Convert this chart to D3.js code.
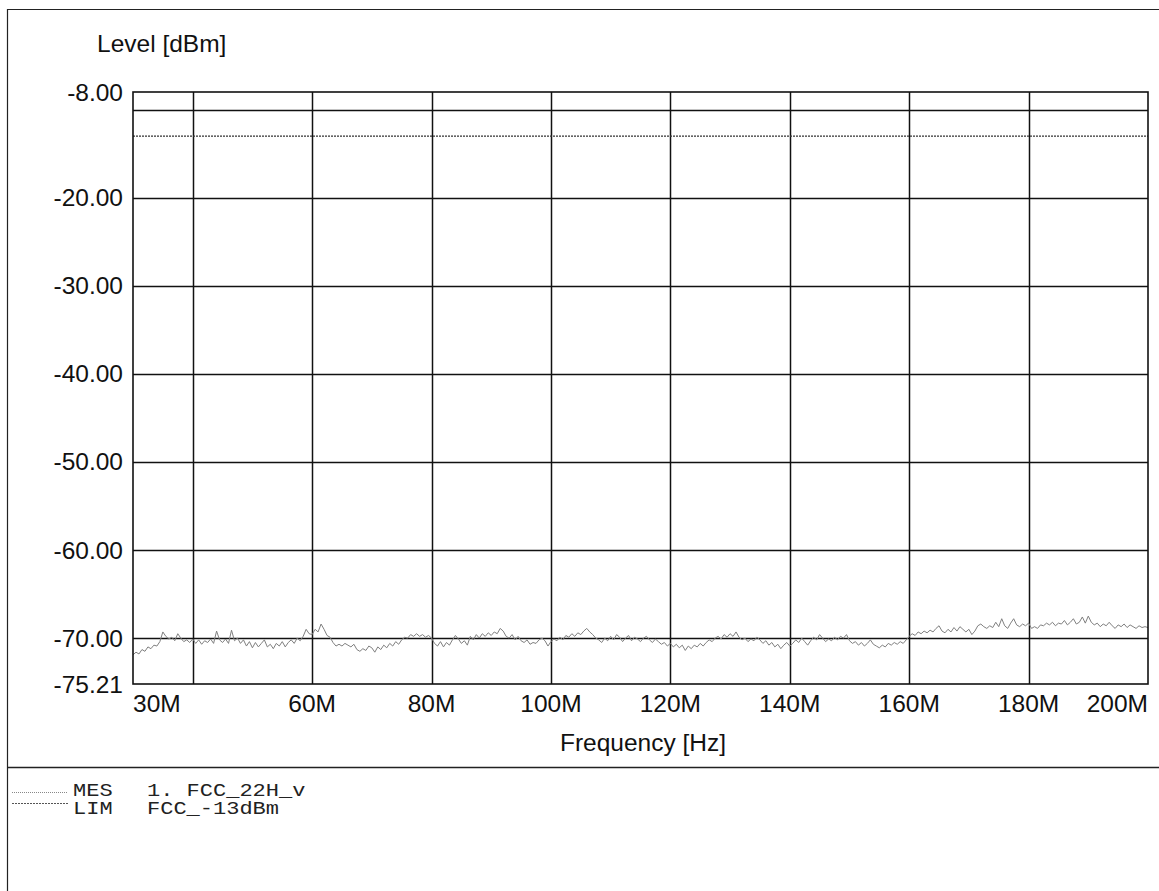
<!DOCTYPE html>
<html>
<head>
<meta charset="utf-8">
<script src="https://cdn.jsdelivr.net/npm/d3@7"></script>
<style>
html,body{margin:0;padding:0;background:#fff;}
svg{display:block;}
</style>
</head>
<body>
<svg id="chart" width="1159" height="891"></svg>
<script>
// ---- data ----
const freqStart = 30, freqStep = 0.5; // MHz
const mesLevels = [
-71.9,-71.6,-71.8,-71.3,-71.5,-71.0,-71.2,-70.8,-70.9,-70.4,
-69.3,-69.8,-70.1,-69.9,-70.3,-69.5,-70.0,-70.4,-70.2,-70.5,
-70.1,-70.6,-70.2,-70.7,-70.3,-70.5,-70.1,-70.6,-69.2,-70.2,
-70.5,-70.1,-70.6,-69.1,-70.3,-70.0,-70.6,-70.2,-70.9,-70.4,
-71.1,-70.5,-71.0,-70.6,-70.2,-71.0,-70.7,-71.2,-70.6,-70.9,
-70.4,-71.0,-70.5,-70.2,-70.6,-70.0,-70.3,-69.8,-69.0,-69.5,
-69.6,-69.0,-69.3,-68.4,-69.0,-69.7,-69.9,-70.5,-70.9,-70.7,
-70.9,-70.6,-70.8,-71.0,-70.7,-71.3,-71.5,-71.2,-71.4,-70.9,
-71.1,-71.6,-71.0,-71.3,-70.8,-71.1,-70.6,-70.9,-70.4,-70.7,
-70.2,-69.9,-70.0,-69.6,-69.8,-69.5,-69.8,-69.6,-69.9,-69.7,
-70.0,-70.6,-70.9,-70.4,-71.0,-70.5,-70.8,-70.2,-69.7,-70.1,
-70.6,-70.3,-70.8,-69.8,-70.2,-69.6,-70.0,-69.5,-69.8,-69.4,
-69.7,-69.3,-69.5,-68.9,-69.2,-69.8,-70.0,-69.6,-70.2,-69.8,
-70.3,-70.5,-70.2,-70.7,-70.5,-70.6,-70.2,-70.0,-70.3,-70.9,
-70.4,-70.1,-70.3,-69.9,-70.2,-69.7,-69.9,-69.5,-69.8,-69.4,
-69.6,-69.2,-68.9,-69.3,-69.6,-70.0,-70.2,-70.5,-70.0,-70.3,
-69.8,-70.2,-69.6,-69.9,-70.4,-70.0,-69.7,-70.3,-69.9,-70.1,
-70.4,-70.0,-69.8,-70.2,-70.5,-70.1,-70.4,-70.7,-70.5,-70.9,
-70.6,-71.0,-70.7,-71.1,-70.8,-71.4,-70.9,-71.2,-70.8,-71.0,
-70.6,-70.9,-70.5,-70.2,-70.4,-70.0,-69.8,-70.1,-69.6,-69.9,
-69.5,-69.8,-69.3,-69.9,-70.2,-70.0,-70.4,-70.1,-70.3,-69.9,
-70.2,-70.6,-70.3,-70.8,-70.5,-71.0,-70.7,-71.2,-70.8,-70.5,
-70.9,-70.6,-70.2,-70.5,-70.0,-70.4,-70.8,-70.3,-69.9,-70.2,
-69.6,-70.0,-70.4,-70.1,-70.3,-69.9,-70.2,-69.8,-70.0,-69.6,
-70.3,-70.6,-70.4,-70.8,-70.5,-70.9,-70.6,-70.2,-70.7,-70.9,
-71.1,-70.8,-71.0,-70.6,-70.8,-70.5,-70.7,-70.4,-70.6,-70.2,
-69.8,-69.5,-69.7,-69.3,-69.5,-69.2,-69.4,-69.1,-69.3,-68.9,
-68.6,-69.2,-69.4,-69.0,-69.3,-68.8,-69.2,-68.7,-69.0,-69.3,
-69.0,-69.6,-69.2,-68.6,-68.4,-68.7,-68.9,-68.6,-68.8,-68.2,
-68.7,-67.8,-68.6,-68.9,-68.3,-67.8,-68.5,-68.7,-68.4,-68.6,
-68.3,-68.9,-68.7,-68.9,-68.5,-68.6,-68.3,-68.5,-68.2,-68.6,
-68.3,-68.4,-68.0,-68.5,-68.2,-67.8,-68.4,-68.2,-67.6,-68.3,
-67.5,-68.2,-68.5,-68.3,-68.7,-68.4,-68.6,-68.2,-68.6,-68.9,
-68.5,-68.7,-68.4,-68.8,-68.5,-68.7,-68.9,-68.6,-68.8,-68.7,
-68.8
];
const limitLevel = -13;
const xDomain = [30, 200];
const yDomain = [-75.21, -8];
const xGridValues = [40, 60, 80, 100, 120, 140, 160, 180];
const xTickLabels = [30, 60, 80, 100, 120, 140, 160, 180, 200];
const yGridValues = [-10, -20, -30, -40, -50, -60, -70];
const yTickLabels = [-8, -20, -30, -40, -50, -60, -70, -75.21];
const yTitle = "Level [dBm]";
const xTitle = "Frequency [Hz]";
const legendTags = ["MES", "LIM"];
const legendNames = ["1. FCC_22H_v", "FCC_-13dBm"];
const legendColors = ["#888", "#555"];
const legendDashes = ["1,1", "2,1"];

// ---- drawing ----
const svg = d3.select("#chart");
const W = 1159, H = 891;
const m = {left: 133, right: 1148, top: 92, bottom: 684};
const x = d3.scaleLinear().domain(xDomain).range([m.left, m.right]);
const y = d3.scaleLinear().domain(yDomain).range([m.bottom, m.top]);
const sans = "'Liberation Sans', Arial, sans-serif";
const mono = "'Liberation Mono', 'Courier New', monospace";
const fmt = d3.formatLocale({decimal: ".", thousands: ",", grouping: [3], currency: ["", ""], minus: "-"}).format(".2f");
const FS = 24.5;

svg.append("rect").attr("width", W).attr("height", H).attr("fill", "#fff");

// outer frame
svg.append("path").attr("d", `M7.5,${H} V9.5 H${W}`).attr("fill", "none").attr("stroke", "#222").attr("stroke-width", 1.2);
svg.append("line").attr("x1", 7).attr("x2", W).attr("y1", 767.5).attr("y2", 767.5).attr("stroke", "#222").attr("stroke-width", 1.4);

// grid
const g = svg.append("g");
g.selectAll(".vg").data(xGridValues).join("line")
  .attr("x1", d => Math.round(x(d)) + 0.5).attr("x2", d => Math.round(x(d)) + 0.5)
  .attr("y1", m.top).attr("y2", m.bottom)
  .attr("stroke", "#111").attr("stroke-width", 1.5);
g.selectAll(".hg").data(yGridValues).join("line")
  .attr("y1", d => Math.round(y(d)) + 0.5).attr("y2", d => Math.round(y(d)) + 0.5)
  .attr("x1", m.left).attr("x2", m.right)
  .attr("stroke", "#111").attr("stroke-width", 1.3);

// limit line
g.append("line")
  .attr("x1", m.left).attr("x2", m.right)
  .attr("y1", y(limitLevel)).attr("y2", y(limitLevel))
  .attr("stroke", "#333").attr("stroke-width", 1.3).attr("stroke-dasharray", "2,1");

// measurement trace
const pts = mesLevels.map((v, i) => [freqStart + i * freqStep, v]);
g.append("path").datum(pts)
  .attr("d", d3.line().x(d => x(d[0])).y(d => y(d[1])))
  .attr("fill", "none").attr("stroke", "#808080").attr("stroke-width", 1);

// plot frame
g.append("rect").attr("x", m.left).attr("y", m.top)
  .attr("width", m.right - m.left).attr("height", m.bottom - m.top)
  .attr("fill", "none").attr("stroke", "#111").attr("stroke-width", 1.6);

// y tick labels
svg.append("g").selectAll("text").data(yTickLabels).join("text")
  .attr("x", 123).attr("y", d => y(d) + 8.5)
  .attr("text-anchor", "end")
  .attr("font-family", sans).attr("font-size", FS).attr("fill", "#111")
  .text(d => fmt(d));

// x tick labels
svg.append("g").selectAll("text").data(xTickLabels).join("text")
  .attr("x", d => x(d)).attr("y", 712)
  .attr("text-anchor", (d, i) => i === 0 ? "start" : (i === xTickLabels.length - 1 ? "end" : "middle"))
  .attr("font-family", sans).attr("font-size", FS).attr("fill", "#111")
  .text(d => d + "M");

// axis titles
svg.append("text").attr("x", 97).attr("y", 52)
  .attr("font-family", sans).attr("font-size", FS).attr("fill", "#111").text(yTitle);
svg.append("text").attr("x", 643).attr("y", 751)
  .attr("text-anchor", "middle")
  .attr("font-family", sans).attr("font-size", FS).attr("fill", "#111").text(xTitle);

// legend
const lg = svg.append("g");
const charW = 13.2;
legendTags.forEach((tag, i) => {
  const ly = 792 + i * 11;
  lg.append("line").attr("x1", 12).attr("x2", 68).attr("y1", ly + 0.5).attr("y2", ly + 0.5)
    .attr("stroke", legendColors[i]).attr("stroke-width", 1).attr("stroke-dasharray", legendDashes[i]);
  const by = 796 + i * 18;
  lg.append("text").attr("x", 73).attr("y", by)
    .attr("font-family", mono).attr("font-size", 18).attr("fill", "#222")
    .attr("textLength", tag.length * charW).attr("lengthAdjust", "spacingAndGlyphs")
    .text(tag);
  lg.append("text").attr("x", 147).attr("y", by)
    .attr("font-family", mono).attr("font-size", 18).attr("fill", "#222")
    .attr("textLength", legendNames[i].length * charW).attr("lengthAdjust", "spacingAndGlyphs")
    .attr("xml:space", "preserve").text(legendNames[i]);
});
</script>
</body>
</html>
